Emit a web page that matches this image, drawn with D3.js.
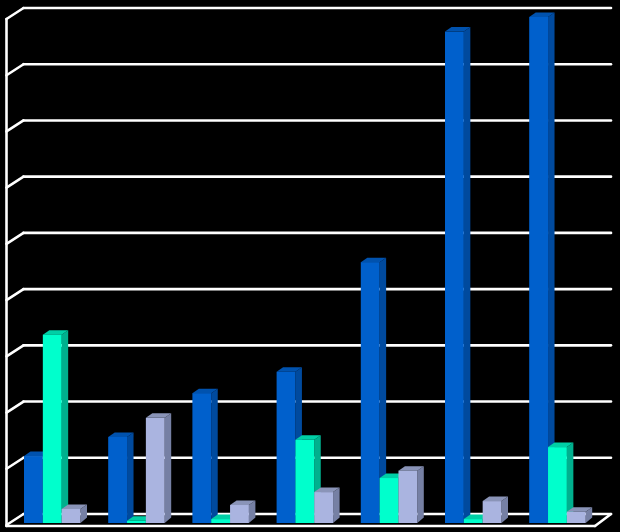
<!DOCTYPE html>
<html><head><meta charset="utf-8">
<script src="https://cdn.jsdelivr.net/npm/d3@7/dist/d3.min.js"></script>
<style>html,body{margin:0;padding:0;background:#000;overflow:hidden}svg{display:block}</style>
</head><body><svg id="c" width="620" height="532"></svg>
<script>
const categories = ["A","B","C","D","E","F","G"];
const seriesNames = ["s1","s2","s3"];
const s1 = [119,153,231,269,464,874,900];
const s2 = [335,4,7,148,80,7,135];
const s3 = [25,187,32,55,93,39,20];
const seriesValues = [s1,s2,s3];
const gridTicks = [0,100,200,300,400,500,600,700,800,900];
const colors = {
  s1:{front:"#0060cc",side:"#004a9e",top:"#0052ae"},
  s2:{front:"#00ffcc",side:"#00b08e",top:"#00cfa6"},
  s3:{front:"#aab4e0",side:"#7680a4",top:"#8a94b8"}
};
const svg = d3.select("#c");
const baseY = 523, dx = 6.5, dy = 4.5, gridShiftX = 17, gridShiftY = 9;
const y = d3.scaleLinear().domain([0,900]).range([baseY,17]);
const x = d3.scaleBand().domain(categories).range([24,613.4]).paddingInner(0).paddingOuter(0);
const xs = d3.scaleBand().domain(seriesNames).range([0,56.5]);
const wh = "#fff", sw = 2.6;
const line = (a,b,c,d)=>svg.append("path").attr("d",d3.line()([[a,b],[c,d]])).attr("stroke",wh).attr("stroke-width",sw).attr("fill","none").attr("stroke-linecap","round");
const gy = v => y(v) - gridShiftY;
const leftFront = 6.5, leftBack = leftFront + gridShiftX, rightBack = 611;
gridTicks.forEach(t=>{
  line(leftBack,gy(t),rightBack,gy(t));
  line(leftFront,gy(t)+11,leftBack,gy(t));
});
line(leftFront,gy(900)+11,leftFront,526);
line(leftFront,526,rightBack-16,526);
line(rightBack-16,526,rightBack,gy(0));
categories.forEach((c,i)=>{
  seriesNames.forEach((s,k)=>{
    const v = seriesValues[k][i], x0 = x(c)+xs(s), w = xs.bandwidth(), y0 = y(v), col = colors[s];
    const g = svg.append("g");
    g.append("path").attr("fill",col.side).attr("d",d3.line()([[x0+w,y0],[x0+w+dx,y0-dy],[x0+w+dx,baseY-dy-1],[x0+w,baseY]]));
    g.append("path").attr("fill",col.top).attr("d",d3.line()([[x0,y0],[x0+dx,y0-dy],[x0+w+dx,y0-dy],[x0+w,y0]]));
    g.append("rect").attr("x",x0).attr("y",y0).attr("width",w).attr("height",baseY-y0).attr("fill",col.front);
  });
});
</script></body></html>
